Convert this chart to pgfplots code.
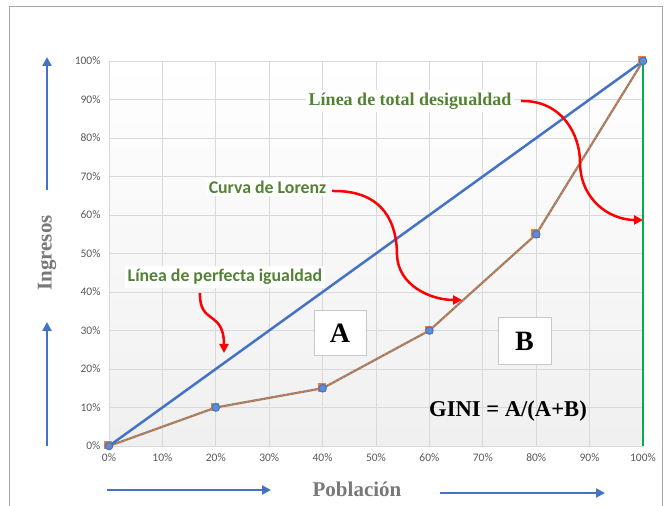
\documentclass[border=0pt]{standalone}
\usepackage{fontspec}
\setmainfont{Liberation Serif}
\newfontfamily\calfont{Carlito}
\usepackage{pgfplots}
\pgfplotsset{compat=1.18}
\usetikzlibrary{arrows.meta}
\definecolor{ablue}{RGB}{68,114,196}
\definecolor{mblue}{RGB}{95,140,212}
\definecolor{agreen}{RGB}{0,176,80}
\definecolor{tgreen}{RGB}{84,130,53}
\definecolor{aorange}{RGB}{237,125,49}
\definecolor{lgray}{RGB}{140,125,118}
\definecolor{gridgray}{RGB}{217,217,217}
\definecolor{tickgray}{RGB}{89,89,89}
\definecolor{labgray}{RGB}{120,120,120}
\definecolor{boxgray}{RGB}{200,200,200}
\definecolor{ared}{RGB}{255,0,0}
\begin{document}
\begin{tikzpicture}[x=1pt,y=1pt]
\useasboundingbox (0,0) rectangle (670,506);
\draw[black!35, line width=1pt] (9,-5) -- (9,499) -- (662,499) -- (662,-5);
\begin{axis}[at={(109pt,60pt)}, anchor=south west, scale only axis,
  width=534pt, height=385pt, xmin=0, xmax=100, ymin=0, ymax=100,
  xtick={0,10,...,100}, ytick={0,10,...,100},
  grid=major, grid style={draw=gridgray, line width=0.8pt},
  major tick length=0pt, axis line style={draw=gridgray},
  /pgf/number format/assume math mode=true,
  tick label style={font=\calfont\fontsize{11.5}{13}\selectfont, text=tickgray},
  xticklabel={\pgfmathprintnumber{\tick}\%},
  yticklabel={\pgfmathprintnumber{\tick}\%},
  xticklabel style={yshift=-4pt},
  yticklabel style={xshift=-5pt},
  axis background/.style={top color=white, bottom color=black!6},
  clip=false]
\addplot[agreen, line width=2.5pt] coordinates {(100,0) (100,100)};
\addplot[lgray, line width=2.2pt] coordinates {(0,0) (20,10) (40,15) (60,30) (80,55) (100,100)};
\addplot[aorange, line width=1.2pt, dash pattern=on 2pt off 2pt] coordinates {(0,0) (20,10) (40,15) (60,30) (80,55) (100,100)};
\addplot[ablue, line width=2.5pt] coordinates {(0,0) (100,100)};
\addplot[only marks, mark=square*, mark size=3.6pt, mark options={fill=aorange, draw=aorange, xshift=-1pt, yshift=1pt}] coordinates {(0,0) (20,10) (40,15) (60,30) (80,55) (100,100)};
\addplot[only marks, mark=*, mark size=3.8pt, mark options={fill=mblue, draw=ablue, line width=1pt}] coordinates {(0,0) (20,10) (40,15) (60,30) (80,55) (100,100)};
\end{axis}
\begin{scope}[yshift=506pt, y=-1pt]
\node[fill=white, text=tgreen, inner sep=3pt, font=\bfseries\fontsize{18}{21}\selectfont] at (410,101) {Línea de total desigualdad};
\node[fill=white, text=tgreen, inner sep=3pt, font=\calfont\bfseries\fontsize{17.8}{20}\selectfont] at (267.5,187) {Curva de Lorenz};
\node[fill=white, text=tgreen, inner sep=3pt, font=\calfont\bfseries\fontsize{17.8}{20}\selectfont] at (225,277) {Línea de perfecta igualdad};
\node[draw=boxgray, fill=white, line width=1pt, minimum width=52pt, minimum height=45pt, font=\bfseries\fontsize{28}{30}\selectfont] at (340,333.5) {A};
\node[draw=boxgray, fill=white, line width=1pt, minimum width=53pt, minimum height=47pt, font=\bfseries\fontsize{28}{30}\selectfont] at (524.5,341.5) {B};
\node[font=\bfseries\fontsize{22.6}{26}\selectfont] at (508,411) {GINI = A/(A+B)};
% red arrows
\draw[ared, line width=2.5pt, -{Triangle[length=9pt,width=9pt]}] (200,293) .. controls (199,325) and (224,310) .. (224,353);
\draw[ared, line width=2.5pt, -{Triangle[length=9pt,width=9pt]}] (332,191) .. controls (385,190) and (397,225) .. (397,255) .. controls (398,285) and (430,300) .. (462,300);
\draw[ared, line width=2.5pt, -{Triangle[length=9pt,width=9pt]}] (521,101) .. controls (562,100) and (580,135) .. (580,162) .. controls (580,200) and (610,220) .. (643,220);
% blue arrows
\draw[ablue, line width=2.5pt, -{Triangle[length=9pt,width=9pt]}] (47,190) -- (47,57);
\draw[ablue, line width=2.5pt, -{Triangle[length=9pt,width=9pt]}] (47,446) -- (47,322);
\draw[ablue, line width=2.5pt, -{Triangle[length=9pt,width=9pt]}] (107,490) -- (271,490);
\draw[ablue, line width=2.5pt, -{Triangle[length=9pt,width=9pt]}] (440,493) -- (605,493);
\node[rotate=90, text=labgray, font=\bfseries\fontsize{21}{24}\selectfont] at (47,253) {Ingresos};
\node[text=labgray, font=\bfseries\fontsize{21}{24}\selectfont] at (357,489) {Población};
\end{scope}
\end{tikzpicture}
\end{document}
